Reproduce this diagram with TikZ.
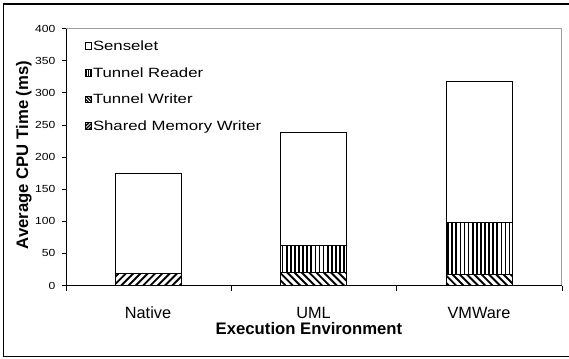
\documentclass[tikz,border=0pt]{standalone}
\usepackage{fontspec}
\setmainfont{Liberation Sans}
\usepackage{graphicx}
\newcommand{\ticktxt}[1]{\fontsize{10.3}{12}\selectfont\scalebox{1.18}[1]{#1}}
\newcommand{\legtxt}[1]{\fontsize{13.4}{15}\selectfont\scalebox{1.25}[1]{#1}}
% vertical stripes: x1, ytop, x2, ybottom, period, line width
\newcommand{\vstripes}[6]{%
  \begin{scope}
  \clip (#1,#2) rectangle (#3,#4);
  \foreach \dd in {0,#5,...,80} \draw[line width=#6pt] ({#1+\dd+0.5*#5},#2) -- ({#1+\dd+0.5*#5},#4);
  \end{scope}}
% "/" stripes
\newcommand{\fstripes}[6]{%
  \begin{scope}
  \clip (#1,#2) rectangle (#3,#4);
  \foreach \dd in {0,#5,...,100} \draw[line width=#6pt] ({#1-25+\dd},{#4+2}) -- ({#1+\dd},{#4-23});
  \end{scope}}
% "\" stripes
\newcommand{\bstripes}[6]{%
  \begin{scope}
  \clip (#1,#2) rectangle (#3,#4);
  \foreach \dd in {0,#5,...,100} \draw[line width=#6pt] ({#1-25+\dd},{#2-2}) -- ({#1+\dd},{#2+23});
  \end{scope}}
\begin{document}
\begin{tikzpicture}[x=1pt,y=-1pt,
  frame/.style={draw=black,line width=1.4pt},
  plotborder/.style={draw=black!38,line width=1.4pt},
  axisline/.style={draw=black,line width=0.9pt},
  barbox/.style={draw=black,line width=0.9pt},
  sen/.style={barbox,fill=white},
  legbox/.style={draw=black,line width=0.7pt},
  ticklab/.style={anchor=east,inner sep=0pt},
  leglab/.style={anchor=base west,inner sep=0pt},
  catlab/.style={anchor=base,inner sep=0pt,font=\fontsize{16.3}{18}\selectfont},
  titlelab/.style={anchor=base,inner sep=0pt,font=\bfseries\fontsize{16.7}{18}\selectfont}
]
\useasboundingbox (0,0) rectangle (569,358);
% outer frame (right side lies beyond the picture)
\draw[frame] (569,4) -- (3.5,4) -- (3.5,356.5) -- (569,356.5);
% plot area border
\draw[plotborder] (66,28.7) -- (561.7,28.7) -- (561.7,285.5);
% bars: Native
\fstripes{115}{273.9}{181}{285.5}{7.3}{1.9}
\draw[barbox] (115,285.5) rectangle (181,273.9);
\draw[sen] (115,273.9) rectangle (181,173.2);
% bars: UML
\bstripes{280.5}{272.0}{346.5}{285.5}{7.3}{1.9}
\draw[barbox] (280.5,285.5) rectangle (346.5,272.0);
\vstripes{280.5}{245.0}{346.5}{272.0}{4.1}{1.7}
\draw[barbox] (280.5,272.0) rectangle (346.5,245.0);
\draw[sen] (280.5,245.0) rectangle (346.5,132.1);
% bars: VMWare
\bstripes{446}{274.3}{512}{285.5}{7.3}{1.9}
\draw[barbox] (446,285.5) rectangle (512,274.3);
\vstripes{446}{222.3}{512}{274.3}{4.1}{1.7}
\draw[barbox] (446,274.3) rectangle (512,222.3);
\draw[sen] (446,222.3) rectangle (512,81.7);
% axes
\draw[axisline] (66,28.7) -- (66,290.5);
\draw[axisline] (66,285.5) -- (562,285.5);
\foreach \v/\y in {0/285.5,50/253.4,100/221.3,150/189.2,200/157.1,250/125.0,300/92.9,350/60.8,400/28.7}{
  \draw[axisline] (61.5,\y) -- (66,\y);
  \node[ticklab] (t\v) at (55.5,\y) {\ticktxt{\v}};
}
\foreach \x in {231.3,396.7,562}{
  \draw[axisline] (\x,285.5) -- (\x,290.5);
}
% category labels
\node[catlab] (cnat) at (148,318) {Native};
\node[catlab] (cuml) at (313.5,318) {UML};
\node[catlab] (cvmw) at (479,318) {VMWare};
% axis titles
\node[titlelab] (xtitle) at (309,334) {Execution Environment};
\node[titlelab,rotate=90] (ytitle) at (28,155) {Average CPU Time (ms)};
% legend
\draw[sen,line width=0.7pt] (85,42.8) rectangle (91.4,49.2);
\vstripes{85}{69.5}{91.4}{75.9}{2.2}{1.1}
\draw[legbox] (85,69.5) rectangle (91.4,75.9);
\bstripes{85}{96.1}{91.4}{102.5}{3.4}{1.3}
\draw[legbox] (85,96.1) rectangle (91.4,102.5);
\fstripes{85}{122.8}{91.4}{129.2}{3.4}{1.3}
\draw[legbox] (85,122.8) rectangle (91.4,129.2);
\node[leglab] (l1) at (92.8,50.7) {\legtxt{Senselet}};
\node[leglab] (l2) at (92.8,77.3) {\legtxt{Tunnel Reader}};
\node[leglab] (l3) at (92.8,104) {\legtxt{Tunnel Writer}};
\node[leglab] (l4) at (92.8,130.7) {\legtxt{Shared Memory Writer}};
\end{tikzpicture}
\end{document}
